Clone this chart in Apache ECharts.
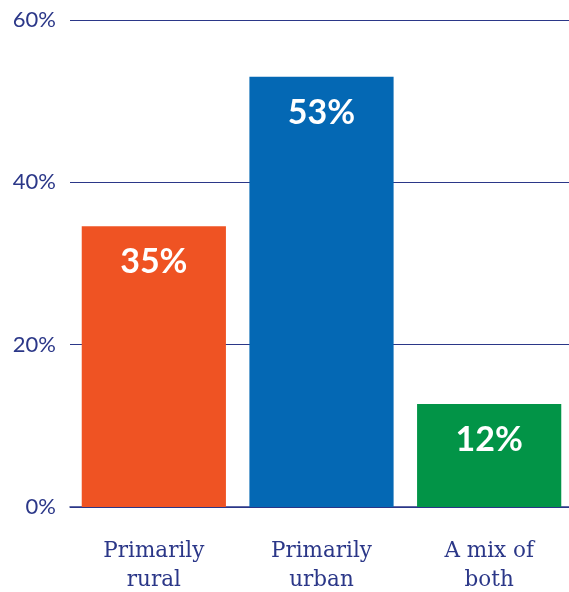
<!DOCTYPE html>
<html><head><meta charset="utf-8">
<script src="https://cdn.jsdelivr.net/npm/echarts@6/dist/echarts.min.js"></script>
<style>html,body{margin:0;padding:0;background:#fff}#c{width:569px;height:592px}</style>
</head><body><div id="c"></div>
<script>
const categories = ["Primarily\nrural", "Primarily\nurban", "A mix of\nboth"];
const values = [34.6, 53.0, 12.7];
const valueLabels = ["35%", "53%", "12%"];
const barColors = ["#EF5323", "#0468B4", "#029447"];
const yTicks = [0, 20, 40, 60];

const chart = echarts.init(document.getElementById('c'));
chart.setOption({
  animation: false,
  grid: {left: 70, right: -4, top: 20, bottom: 85, outerBoundsMode: 'none', containLabel: false},
  xAxis: {
    type: 'category', data: categories,
    axisLine: {lineStyle: {color: '#2B3788', width: 1.5}},
    axisTick: {show: false},
    axisLabel: {color: '#2B3788', fontFamily: 'DejaVu Serif', fontSize: 21.5, lineHeight: 29, margin: 30, interval: 0}
  },
  yAxis: {
    type: 'value', min: 0, max: 60, interval: 20,
    axisLine: {show: false}, axisTick: {show: false},
    splitLine: {lineStyle: {color: '#2B3788', width: 1.2}},
    axisLabel: {color: '#2B3788', fontFamily: 'Lato', fontWeight: 'normal', fontSize: 22, margin: 14,
      formatter: v => yTicks.includes(v) ? v + '%' : ''}
  },
  series: [{
    type: 'bar', barCategoryGap: '14%',
    data: values.map((v, i) => ({value: v, itemStyle: {color: barColors[i]}})),
    label: {show: true, position: 'insideTop', distance: 19, color: '#fff',
      fontFamily: 'Lato', fontWeight: 'bold', fontSize: 34,
      formatter: p => valueLabels[p.dataIndex]}
  }]
});
</script></body></html>
